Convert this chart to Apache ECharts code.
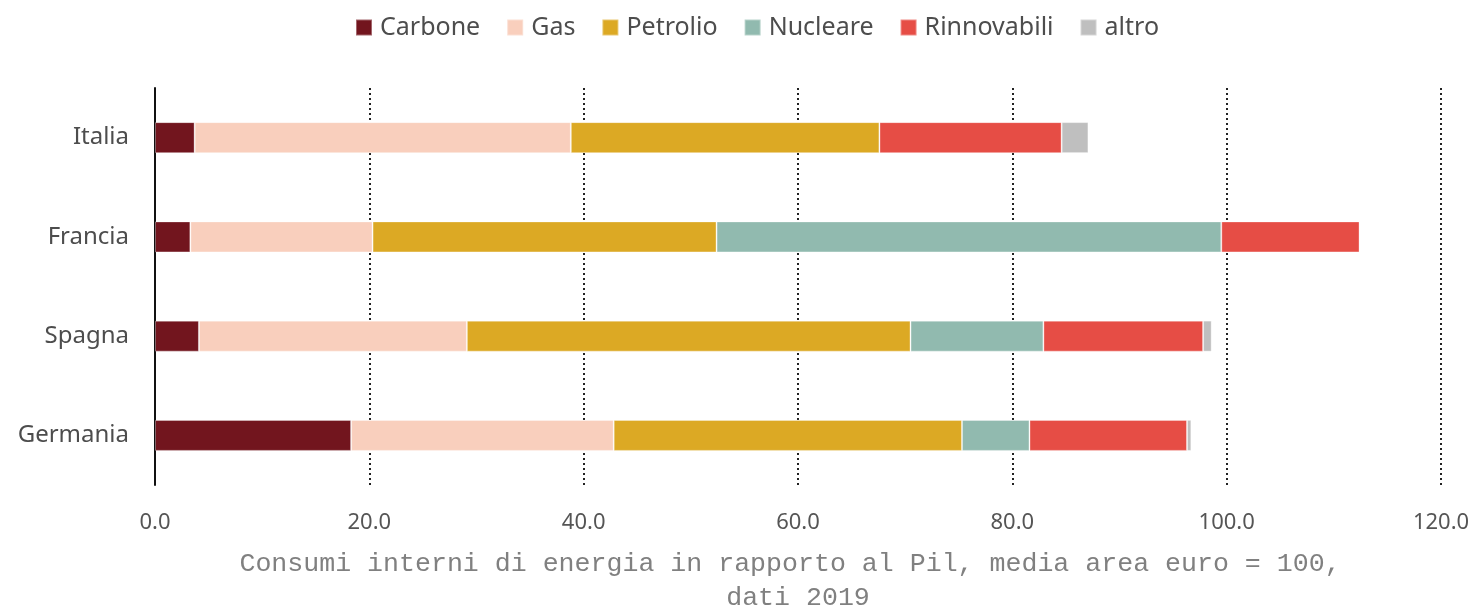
<!DOCTYPE html>
<html>
<head>
<meta charset="utf-8">
<script src="https://cdn.jsdelivr.net/npm/echarts@6/dist/echarts.min.js"></script>
<style>
  html, body { margin: 0; padding: 0; background: #fff; }
  #chart { width: 1476px; height: 607px; }
</style>
</head>
<body>
<div id="chart"></div>
<script>
var COUNTRIES = ['Italia', 'Francia', 'Spagna', 'Germania'];
var SERIES_NAMES = ['Carbone', 'Gas', 'Petrolio', 'Nucleare', 'Rinnovabili', 'altro'];
var COLORS = ['#72151e', '#f9cfbd', '#dca924', '#91baaf', '#e64d45', '#bfbfbf'];

var CARBONE = [3.7, 3.3, 4.1, 18.3];
var GAS = [35.1, 17.0, 25.0, 24.5];
var PETROLIO = [28.8, 32.1, 41.4, 32.5];
var NUCLEARE = [0, 47.1, 12.4, 6.3];
var RINNOVABILI = [17.0, 12.9, 14.9, 14.7];
var ALTRO = [2.5, 0, 0.8, 0.4];

var X_MIN = 0, X_MAX = 120, X_STEP = 20;
var CAPTION = 'Consumi interni di energia in rapporto al Pil, media area euro = 100, \ndati 2019';

var FONT = '"Noto Sans", sans-serif';
var VALUES = [CARBONE, GAS, PETROLIO, NUCLEARE, RINNOVABILI, ALTRO];

var chart = echarts.init(document.getElementById('chart'), null, { renderer: 'canvas' });

chart.setOption({
  animation: false,
  backgroundColor: '#fff',
  textStyle: { fontFamily: FONT },
  legend: {
    top: 10,
    left: 350,
    itemWidth: 16,
    itemHeight: 16,
    itemGap: 26,
    icon: 'rect',
    textStyle: { fontFamily: FONT, fontSize: 25, color: '#4d4d4d', padding: [0, 0, 0, 3] },
    data: SERIES_NAMES
  },
  // v6 grid would otherwise shrink to fit the caption
  grid: { left: 155, right: 35, top: 88, bottom: 122, outerBoundsMode: 'none', containLabel: false },
  xAxis: {
    type: 'value',
    min: X_MIN,
    max: X_MAX,
    interval: X_STEP,
    axisLine: { show: false },
    axisTick: { show: false },
    axisLabel: {
      margin: 27,
      fontFamily: FONT,
      fontSize: 22,
      color: '#555',
      formatter: function (v) { return v.toFixed(1); }
    },
    splitLine: {
      show: true,
      lineStyle: { type: [2, 3], color: '#222', width: 2 }
    },
    name: CAPTION,
    nameLocation: 'middle',
    nameGap: 62,
    nameTextStyle: {
      fontFamily: '"Liberation Mono", monospace',
      fontSize: 26.6,
      lineHeight: 34,
      color: '#808080',
      align: 'center',
      verticalAlign: 'top'
    }
  },
  yAxis: {
    type: 'category',
    inverse: true,
    data: COUNTRIES,
    axisLine: { show: true, lineStyle: { color: '#111', width: 2 } },
    axisTick: { show: false },
    axisLabel: { margin: 26, fontFamily: FONT, fontSize: 24, color: '#4d4d4d' }
  },
  series: SERIES_NAMES.map(function (name, i) {
    return {
      name: name,
      type: 'bar',
      stack: 'tot',
      barWidth: 31,
      itemStyle: { color: COLORS[i], borderColor: 'rgba(255,255,255,0.35)', borderWidth: 1 },
      data: VALUES[i]
    };
  })
});
</script>
</body>
</html>
